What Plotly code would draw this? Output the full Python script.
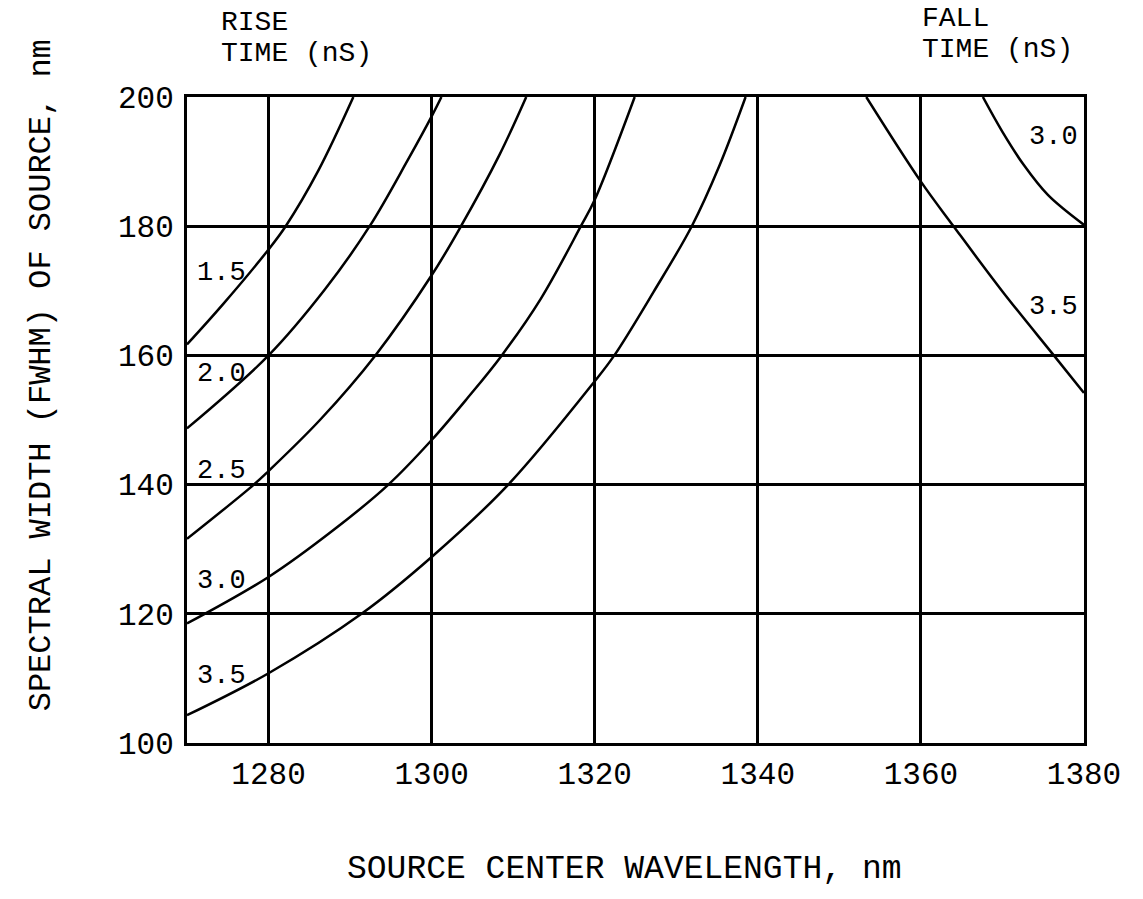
import plotly.graph_objects as go

# ---- data ----
rise_15_x = [1270, 1274.4, 1280, 1282.1, 1286.1, 1290.4]
rise_15_y = [161.7, 167.9, 176.4, 180, 188.6, 200]

rise_20_x = [1270, 1280, 1286.9, 1292.4, 1297.1, 1300, 1301.2]
rise_20_y = [148.7, 160, 170.2, 180, 190.3, 197.0, 200]

rise_25_x = [1270, 1278.2, 1280, 1286.3, 1293.1, 1300, 1303.6, 1308.3, 1311.6]
rise_25_y = [131.6, 140, 142.1, 150, 160, 172.4, 180, 191.0, 200]

rise_30_x = [1270, 1280, 1288.0, 1294.7, 1300, 1304.4, 1308.6, 1313.4, 1318.3, 1320, 1324.9]
rise_30_y = [118.5, 125.7, 133.0, 140, 146.9, 153.4, 160, 168.8, 180, 184.1, 200]

rise_35_x = [1270, 1280, 1291.4, 1300, 1309.4, 1320, 1322.4, 1327.2, 1331.9, 1335.3, 1338.5]
rise_35_y = [104.3, 110.8, 120, 128.8, 140, 156.0, 160, 169.8, 180, 189.4, 200]

fall_30_x = [1367.6, 1370.0, 1372.6, 1375.6, 1380]
fall_30_y = [200, 194.6, 189.5, 184.8, 180.2]

fall_35_x = [1353.3, 1360, 1364.0, 1370.0, 1376.3, 1380]
fall_35_y = [200, 186.9, 180, 169.9, 160, 154.2]

rise_labels = ["1.5", "2.0", "2.5", "3.0", "3.5"]
rise_label_y = [172.8, 157.1, 142.1, 125.1, 110.4]
fall_labels = ["3.0", "3.5"]
fall_label_y = [193.8, 167.5]

x_ticks = [1280, 1300, 1320, 1340, 1360, 1380]
y_ticks = [100, 120, 140, 160, 180, 200]

FONT = "Liberation Mono"

# page geometry
W, H = 1143, 899
PLOT_L, PLOT_R, PLOT_T, PLOT_B = 187, 1084, 96.5, 743
PH = PLOT_B - PLOT_T
PW = PLOT_R - PLOT_L


def py(y_page):
    return (PLOT_B - y_page) / PH


def px(x_page):
    return (x_page - PLOT_L) / PW


fig = go.Figure()
for xs, ys in [(rise_15_x, rise_15_y), (rise_20_x, rise_20_y), (rise_25_x, rise_25_y),
               (rise_30_x, rise_30_y), (rise_35_x, rise_35_y),
               (fall_30_x, fall_30_y), (fall_35_x, fall_35_y)]:
    fig.add_trace(go.Scatter(x=xs, y=ys, mode="lines",
                             line=dict(color="black", width=2.5, shape="spline", smoothing=1.0),
                             showlegend=False, hoverinfo="skip", cliponaxis=True))

annotations = []
for t, yv in zip(rise_labels, rise_label_y):
    annotations.append(dict(x=1271.0, y=yv, xref="x", yref="y", text=t, showarrow=False,
                            xanchor="left", yanchor="middle",
                            font=dict(family=FONT, size=27, color="black")))
for t, yv in zip(fall_labels, fall_label_y):
    annotations.append(dict(x=1373.0, y=yv, xref="x", yref="y", text=t, showarrow=False,
                            xanchor="left", yanchor="middle",
                            font=dict(family=FONT, size=27, color="black")))

hdr = dict(family=FONT, size=28, color="black")
annotations += [
    dict(x=1274.1, y=py(21.5), xref="x", yref="paper", text="RISE", showarrow=False,
         xanchor="left", yanchor="middle", font=hdr, borderpad=0),
    dict(x=1274.1, y=py(53), xref="x", yref="paper", text="TIME (nS)", showarrow=False,
         xanchor="left", yanchor="middle", font=hdr, borderpad=0),
    dict(x=1360.0, y=py(17.5), xref="x", yref="paper", text="FALL", showarrow=False,
         xanchor="left", yanchor="middle", font=hdr, borderpad=0),
    dict(x=1360.0, y=py(49), xref="x", yref="paper", text="TIME (nS)", showarrow=False,
         xanchor="left", yanchor="middle", font=hdr, borderpad=0),
    dict(x=px(624), y=py(870), xref="paper", yref="paper",
         text="SOURCE CENTER WAVELENGTH, nm", showarrow=False,
         xanchor="center", yanchor="middle", font=dict(family=FONT, size=33, color="black")),
    dict(x=px(41), y=py(375), xref="paper", yref="paper",
         text="SPECTRAL WIDTH (FWHM) OF SOURCE, nm", showarrow=False, textangle=-90,
         xanchor="center", yanchor="middle", font=dict(family=FONT, size=32, color="black")),
]

fig.update_layout(
    width=W, height=H,
    margin=dict(l=PLOT_L, r=W - PLOT_R, t=PLOT_T, b=H - PLOT_B, pad=0),
    paper_bgcolor="white", plot_bgcolor="white",
    annotations=annotations,
    showlegend=False,
)
fig.update_xaxes(range=[1270, 1380], tickvals=x_ticks, ticktext=[str(v) for v in x_ticks],
                 showgrid=True, gridcolor="black", gridwidth=2.5,
                 showline=True, linecolor="black", linewidth=3, mirror=True,
                 ticks="", ticklabelstandoff=1, zeroline=False,
                 tickfont=dict(family=FONT, size=31, color="black"))
fig.update_yaxes(range=[100, 200], tickvals=y_ticks, ticktext=[str(v) for v in y_ticks],
                 showgrid=True, gridcolor="black", gridwidth=2.5,
                 showline=True, linecolor="black", linewidth=3, mirror=True,
                 ticks="", ticklabelstandoff=4, zeroline=False,
                 tickfont=dict(family=FONT, size=31, color="black"))

fig.write_html("out.html",
               config={"displayModeBar": False},
               post_script="document.body.style.margin='0';document.body.style.padding='0';")
